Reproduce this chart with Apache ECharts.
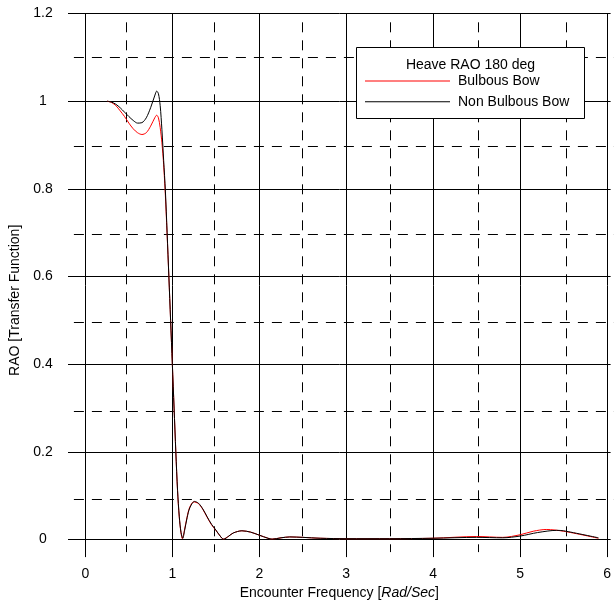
<!DOCTYPE html>
<html>
<head>
<meta charset="utf-8">
<script src="https://cdn.jsdelivr.net/npm/echarts@6/dist/echarts.min.js"></script>
<style>
  html, body { margin: 0; padding: 0; background: #fff; }
  #chart { width: 614px; height: 605px; }
</style>
</head>
<body>
<div id="chart"></div>
<script>
// tick positions
const xMajor = [0, 1, 2, 3, 4, 5, 6]
const xMinor = [0.5, 1.5, 2.5, 3.5, 4.5, 5.5]
const yMajor = [0, 0.2, 0.4, 0.6, 0.8, 1, 1.2]
const yMinor = [0.1, 0.3, 0.5, 0.7, 0.9, 1.1]

// encounter frequency [rad/s]
const freqBulbous = [0.25, 0.3, 0.35, 0.4, 0.45, 0.5, 0.55, 0.6, 0.65, 0.7, 0.75, 0.8, 0.82, 0.84, 0.86, 0.88, 0.9, 0.92, 0.94, 0.96, 0.98, 1.0, 1.02, 1.04, 1.06, 1.08, 1.1, 1.115, 1.14, 1.17, 1.2, 1.245, 1.3, 1.35, 1.4, 1.45, 1.5, 1.55, 1.585, 1.65, 1.7, 1.8, 1.9, 2.0, 2.1, 2.14, 2.25, 2.35, 2.5, 2.7, 3.0, 3.5, 4.0, 4.5, 4.8, 5.0, 5.15, 5.3, 5.5, 5.9]
const raoBulbous = [1.0, 0.997, 0.99, 0.978, 0.965, 0.95, 0.937, 0.928, 0.924, 0.928, 0.943, 0.963, 0.968, 0.962, 0.94, 0.905, 0.855, 0.785, 0.695, 0.6, 0.5, 0.4, 0.3, 0.2, 0.11, 0.05, 0.015, 0.002, 0.022, 0.052, 0.074, 0.086, 0.082, 0.069, 0.051, 0.034, 0.021, 0.008, 0.001, 0.008, 0.015, 0.02, 0.017, 0.01, 0.003, 0.001, 0.004, 0.006, 0.005, 0.003, 0.002, 0.002, 0.003, 0.007, 0.005, 0.011, 0.019, 0.023, 0.019, 0.003]

const freqNonBulbous = [0.25, 0.3, 0.35, 0.4, 0.45, 0.5, 0.55, 0.6, 0.65, 0.7, 0.75, 0.8, 0.82, 0.84, 0.86, 0.88, 0.9, 0.92, 0.94, 0.96, 0.98, 1.0, 1.02, 1.04, 1.06, 1.08, 1.1, 1.12, 1.14, 1.17, 1.2, 1.255, 1.3, 1.35, 1.4, 1.45, 1.5, 1.55, 1.59, 1.65, 1.7, 1.8, 1.9, 2.0, 2.1, 2.15, 2.25, 2.35, 2.5, 2.7, 3.0, 3.5, 4.0, 4.5, 4.8, 5.0, 5.2, 5.42, 5.5, 5.9]
const raoNonBulbous = [1.0, 0.998, 0.993, 0.985, 0.975, 0.965, 0.956, 0.95, 0.951, 0.962, 0.985, 1.014, 1.023, 1.017, 0.99, 0.935, 0.865, 0.795, 0.7, 0.6, 0.5, 0.4, 0.3, 0.2, 0.112, 0.052, 0.016, 0.003, 0.02, 0.05, 0.072, 0.087, 0.083, 0.07, 0.052, 0.035, 0.022, 0.008, 0.001, 0.008, 0.015, 0.02, 0.017, 0.01, 0.003, 0.001, 0.004, 0.006, 0.005, 0.003, 0.002, 0.002, 0.003, 0.005, 0.004, 0.008, 0.016, 0.021, 0.02, 0.004]

const font = 'Liberation Sans, Arial, sans-serif'
const fs = 14

const pair = (xs, ys) => xs.map((x, i) => [x, ys[i]])

const chart = echarts.init(document.getElementById('chart'))

const option = {
  backgroundColor: '#fff',
  animation: false,
  textStyle: { fontFamily: font },
  grid: [
    // major (solid) grid, slightly wider than the data range
    { left: 65.1, top: 13.5, width: 549.1, height: 547.5 },
    // minor (dashed) grid
    { left: 73.9, top: 22.3, width: 540.3, height: 529.8 }
  ],
  xAxis: [{
    gridIndex: 0,
    type: 'value',
    min: -0.2,
    max: 6.04,
    name: 'Encounter Frequency [{i|Rad/Sec}]',
    nameLocation: 'middle',
    nameGap: 27,
    nameTextStyle: {
      color: '#000',
      fontSize: fs,
      fontFamily: font,
      rich: { i: { fontStyle: 'italic', fontSize: fs, fontFamily: font, color: '#000' } }
    },
    axisLine: { show: false },
    axisTick: { show: false, customValues: xMajor },
    axisLabel: { customValues: xMajor, color: '#000', fontSize: fs, margin: 10 },
    splitLine: { show: true, lineStyle: { color: '#000', width: 1 } }
  }, {
    gridIndex: 1,
    type: 'value',
    min: -0.1,
    max: 6.04,
    axisLine: { show: false },
    axisTick: { show: false, customValues: xMinor },
    axisLabel: { show: false },
    splitLine: { show: true, lineStyle: { color: '#000', width: 1, type: [10, 8] } }
  }],
  yAxis: [{
    gridIndex: 0,
    type: 'value',
    min: -0.04,
    max: 1.2,
    name: 'RAO [Transfer Function]',
    nameLocation: 'middle',
    nameGap: 46,
    nameRotate: 90,
    nameTextStyle: { color: '#000', fontSize: fs, fontFamily: font, padding: [0, 30, 0, 0] },
    axisLine: { show: false },
    axisTick: { show: false, customValues: yMajor },
    axisLabel: { customValues: yMajor, color: '#000', fontSize: fs, align: 'center', margin: 25 },
    splitLine: { show: true, lineStyle: { color: '#000', width: 1 } }
  }, {
    gridIndex: 1,
    type: 'value',
    min: -0.02,
    max: 1.18,
    axisLine: { show: false },
    axisTick: { show: false, customValues: yMinor },
    axisLabel: { show: false },
    splitLine: { show: true, lineStyle: { color: '#000', width: 1, type: [10, 8] } }
  }],
  legend: {
    orient: 'vertical',
    left: 365,
    top: 73,
    padding: 0,
    itemGap: 4.7,
    itemWidth: 85,
    itemHeight: 1,
    icon: 'rect',
    z: 6,
    textStyle: { color: '#000', fontSize: fs, fontFamily: font, lineHeight: 16, padding: [0, 0, 0, 3] },
    data: ['Bulbous Bow', 'Non Bulbous Bow']
  },
  graphic: [{
    type: 'rect',
    z: 5,
    shape: { x: 356.5, y: 47.5, width: 228, height: 71 },
    style: { fill: '#fff', stroke: '#000', lineWidth: 1 }
  }, {
    type: 'text',
    z: 6,
    x: 470.5,
    y: 65,
    style: {
      text: 'Heave RAO 180 deg',
      fill: '#000',
      font: fs + 'px ' + font,
      align: 'center',
      verticalAlign: 'middle'
    }
  }],
  series: [{
    name: 'Bulbous Bow',
    type: 'line',
    xAxisIndex: 0,
    yAxisIndex: 0,
    smooth: 0.3,
    symbol: 'none',
    itemStyle: { color: '#ff0000' },
    lineStyle: { color: '#ff0000', width: 1 },
    data: pair(freqBulbous, raoBulbous)
  }, {
    name: 'Non Bulbous Bow',
    type: 'line',
    xAxisIndex: 0,
    yAxisIndex: 0,
    smooth: 0.3,
    symbol: 'none',
    itemStyle: { color: '#000' },
    lineStyle: { color: '#000', width: 1 },
    data: pair(freqNonBulbous, raoNonBulbous)
  }]
}

chart.setOption(option)
</script>
</body>
</html>
